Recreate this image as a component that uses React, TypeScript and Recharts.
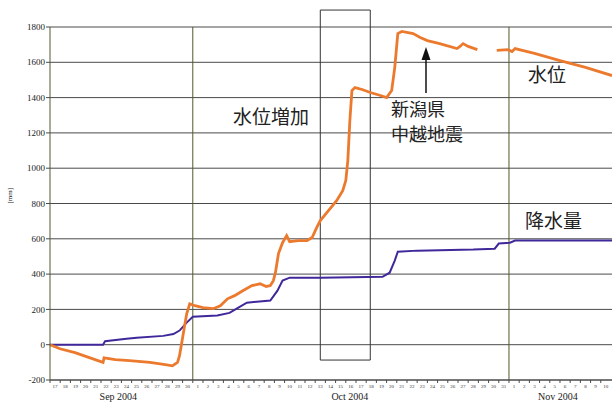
import { LineChart, Line, XAxis, YAxis, CartesianGrid, ReferenceLine, ReferenceArea } from "recharts";

// days counted from 17 Sep 2004 00:00
const levelDays = [0, 0.98, 2.45, 5.2, 5.3, 6.4, 7.8, 9.8, 11.3, 12.0, 12.5, 12.7, 12.9, 13.2, 13.4, 13.7, 14.2, 15.0, 16.0, 16.7, 17.4, 18.1, 18.9, 19.8, 20.6, 21.2, 21.6, 21.9, 22.1, 22.4, 22.8, 23.2, 23.5, 24.3, 25.2, 25.7, 26.1, 26.5, 27.3, 28.1, 28.7, 29.0, 29.2, 29.4, 29.6, 29.9, 30.6, 31.4, 32.4, 33.0, 33.5, 33.8, 34.1, 34.5, 35.6, 36.3, 37.0, 38.2, 39.9, 40.2, 40.5, 41.0, 41.9, 42.8, 43.8, 44.9, 45.3, 45.6, 47.5, 50.0, 52.5, 55.1];
const levelValues = [0, -23, -45, -100, -75, -85, -90, -100, -113, -120, -100, -62, 5, 108, 175, 232, 221, 210, 204, 220, 260, 278, 306, 335, 345, 330, 335, 363, 408, 516, 578, 618, 584, 590, 590, 607, 658, 703, 760, 816, 873, 930, 1043, 1270, 1440, 1457, 1446, 1429, 1412, 1400, 1440, 1570, 1763, 1775, 1763, 1740, 1723, 1706, 1678, 1690, 1706, 1690, 1672, null, 1667, 1672, 1661, 1678, 1650, 1610, 1571, 1525];

const rainDays = [0, 5.2, 5.4, 7.5, 8.5, 11.1, 12.1, 12.7, 13.4, 14.0, 16.4, 17.6, 18.3, 19.3, 21.6, 22.3, 22.8, 23.5, 26.5, 32.6, 33.3, 33.8, 34.1, 36.0, 41.5, 43.6, 44.0, 45.1, 45.6, 55.1];
const rainValues = [0, 0, 20, 34, 40, 50, 60, 80, 125, 158, 165, 180, 204, 238, 250, 306, 363, 380, 380, 385, 408, 476, 527, 533, 539, 544, 573, 578, 590, 590];

const dayLabels = [
  "17", "18", "19", "20", "21", "22", "23", "24", "25", "26", "27", "28", "29", "30",
  "1", "2", "3", "4", "5", "6", "7", "8", "9", "10", "11", "12", "13", "14", "15", "16",
  "17", "18", "19", "20", "21", "22", "23", "24", "25", "26", "27", "28", "29", "30", "31",
  "1", "2", "3", "4", "5", "6", "7", "8", "9", "10",
];
const monthLabels = ["Sep 2004", "Oct 2004", "Nov 2004"];
const yTicks = [-200, 0, 200, 400, 600, 800, 1000, 1200, 1400, 1600, 1800];

const levelData = levelDays.map((d, i) => ({ day: d, level: levelValues[i] }));
const rainData = rainDays.map((d, i) => ({ day: d, rain: rainValues[i] }));
const dayTicks = dayLabels.map((_, i) => i);
// day positions where each month caption is centred
const monthTicks = [6.7, 29.4, 49.8];
const monthStarts = [14, 45];

const ORANGE = "#ec7a2e";
const PURPLE = "#40289a";
const GRID = "#4a4a4a";
const OLIVE = "#4f5a2c";
const JP = "'Noto Sans CJK JP', sans-serif";
const SERIF = "'Liberation Serif', 'DejaVu Serif', serif";

function DayTick(props: any) {
  const { x, y, payload } = props;
  return (
    <text x={x + 5} y={y + 4} textAnchor="middle" fontSize={5} fontFamily={SERIF} fill="#333">
      {dayLabels[payload.index]}
    </text>
  );
}

export default function App() {
  const jpText = { position: "absolute" as const, fontFamily: JP, fontSize: 19, lineHeight: "20px", color: "#222", whiteSpace: "nowrap" as const };
  return (
    <div style={{ position: "absolute", left: 0, top: 0, width: 612, height: 402, background: "#fff" }}>
      <LineChart width={612} height={402} margin={{ top: 27, right: 0, left: 0, bottom: 10 }}>
        <CartesianGrid vertical={false} stroke={GRID} strokeWidth={1} />
        <XAxis
          xAxisId="top"
          orientation="top"
          type="number"
          dataKey="day"
          domain={[0, 55.1]}
          ticks={dayTicks}
          interval={0}
          height={0}
          tick={false}
          tickSize={3}
          tickLine={{ stroke: GRID }}
          axisLine={false}
        />
        <XAxis
          type="number"
          dataKey="day"
          domain={[0, 55.1]}
          ticks={dayTicks}
          interval={0}
          height={12}
          tickSize={3}
          tickMargin={1}
          tick={<DayTick />}
          tickLine={{ stroke: GRID }}
          axisLine={{ stroke: GRID }}
        />
        <YAxis
          type="number"
          domain={[-200, 1800]}
          ticks={yTicks}
          interval={0}
          width={50}
          tickSize={4}
          tickMargin={1}
          tick={{ fontSize: 9, fontFamily: SERIF, fill: "#222" }}
          tickLine={{ stroke: GRID }}
          axisLine={{ stroke: OLIVE }}
          label={{ value: "[mm]", angle: -90, position: "insideLeft", offset: 10, style: { fontSize: 7, fontFamily: SERIF, fill: "#222" } }}
        />
        {monthStarts.map((d) => (
          <ReferenceLine key={d} x={d} stroke={OLIVE} strokeWidth={1} />
        ))}
        <ReferenceArea x1={26.5} x2={31.4} y1={-87} y2={1896} ifOverflow="visible" fill="none" stroke="#333" strokeWidth={1} />
        {monthTicks.map((d, i) => (
          <ReferenceLine
            key={"m" + d}
            x={d}
            stroke="none"
            ifOverflow="visible"
            label={{ value: monthLabels[i], position: "bottom", offset: 13, style: { fontSize: 10, fontFamily: SERIF, fill: "#222" } }}
          />
        ))}
        <Line
          data={rainData}
          dataKey="rain"
          type="linear"
          stroke={PURPLE}
          strokeWidth={2}
          dot={false}
          isAnimationActive={false}
        />
        <Line
          data={levelData}
          dataKey="level"
          type="linear"
          stroke={ORANGE}
          strokeWidth={2.8}
          dot={false}
          connectNulls={false}
          isAnimationActive={false}
        />
      </LineChart>
      <div style={{ ...jpText, left: 233, top: 106 }}>水位増加</div>
      <div style={{ ...jpText, left: 391, top: 98, fontSize: 18 }}>新潟県</div>
      <div style={{ ...jpText, left: 391, top: 123, fontSize: 18 }}>中越地震</div>
      <div style={{ ...jpText, left: 528, top: 64 }}>水位</div>
      <div style={{ ...jpText, left: 525, top: 210 }}>降水量</div>
      <svg style={{ position: "absolute", left: 0, top: 0 }} width={612} height={402} pointerEvents="none">
        <line x1={426} y1={58} x2={426} y2={93} stroke="#111" strokeWidth={1.5} />
        <polygon points="426,47 421.5,60 430.5,60" fill="#111" />
      </svg>
    </div>
  );
}
